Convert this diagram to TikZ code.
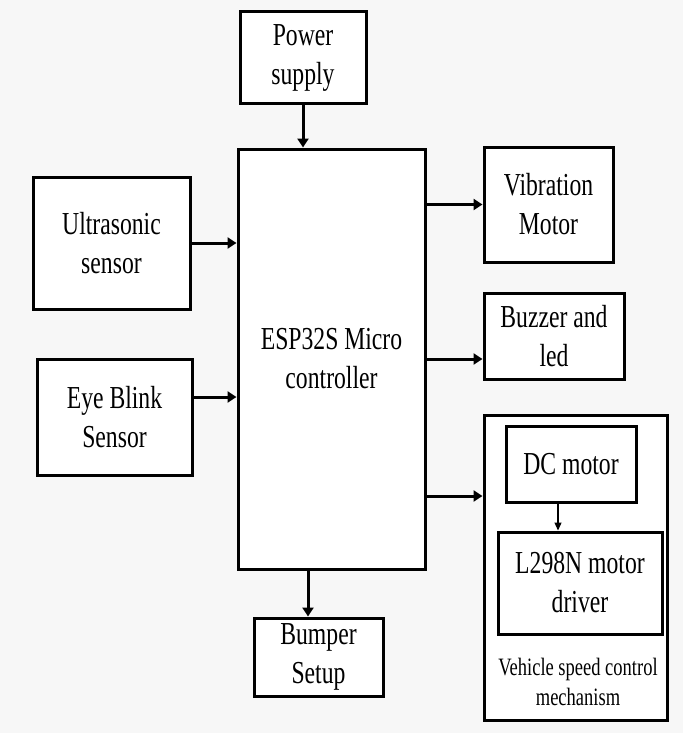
\documentclass[tikz,border=0pt]{standalone}
\usepackage{fontspec}
\setmainfont[FakeStretch=0.74]{Liberation Serif}
\usetikzlibrary{arrows.meta}

\begin{document}
\begin{tikzpicture}[
    x=1pt, y=-1pt,
    block/.style={
        draw,
        fill=white,
        line width=3pt,
        inner sep=0pt,
        align=center,
        font=\fontsize{32}{39}\selectfont
    },
    arrow/.style={-{Triangle[length=9pt,width=11pt]}, line width=3pt},
    thinarrow/.style={-{Triangle[length=8pt,width=7pt]}, line width=1.2pt}
]

% Background
\useasboundingbox[fill=black!3] (0,0) rectangle (683,733);

% Nodes
\node[block, minimum width=126pt, minimum height=92pt] (power) at (303,58) {Power\\supply};
\node[block, minimum width=187pt, minimum height=420pt] (esp) at (331.5,359) {ESP32S Micro\\controller};
\node[block, minimum width=157pt, minimum height=132pt] (ultra) at (111.5,243) {Ultrasonic\\sensor};
\node[block, minimum width=155pt, minimum height=116pt] (eye) at (114.5,417) {Eye Blink\\Sensor};
\node[block, minimum width=129pt, minimum height=115pt] (vib) at (548.5,204.5) {Vibration\\Motor};
\node[block, minimum width=140pt, minimum height=86pt] (buzz) at (554,336) {Buzzer and\\led};
\node[block, minimum width=129pt, minimum height=78pt] (bumper) at (318.5,657) {Bumper\\Setup};

% Vehicle speed control group
\node[block, minimum width=183pt, minimum height=305pt] (vehicle) at (575.5,567.5) {};
\node[block, minimum width=130pt, minimum height=76pt] (dc) at (571,464) {DC motor};
\node[block, minimum width=164pt, minimum height=102pt] (l298) at (580,583) {L298N motor\\driver};
\node[align=center, font=\fontsize{25}{30}\selectfont] (vtext) at (578,682) {Vehicle speed control\\mechanism};

% Inputs
\draw[arrow] (power.south) -- (power.south |- esp.north);
\draw[arrow] (ultra.east) -- (ultra.east -| esp.west);
\draw[arrow] ([yshift=20pt]eye.east) -- ([yshift=20pt]eye.east -| esp.west);

% Outputs
\draw[arrow] (esp.east |- vib.west) -- (vib.west);
\draw[arrow] ([yshift=-23pt]esp.east |- buzz.west) -- ([yshift=-23pt]buzz.west);
\draw[arrow] ([yshift=71.5pt]esp.east |- vehicle.west) -- ([yshift=71.5pt]vehicle.west);
\draw[arrow] ([xshift=-10.5pt]bumper.north |- esp.south) -- ([xshift=-10.5pt]bumper.north);
\draw[thinarrow] ([xshift=-13pt]dc.south) -- ([xshift=-13pt]dc.south |- l298.north);

\end{tikzpicture}
\end{document}
